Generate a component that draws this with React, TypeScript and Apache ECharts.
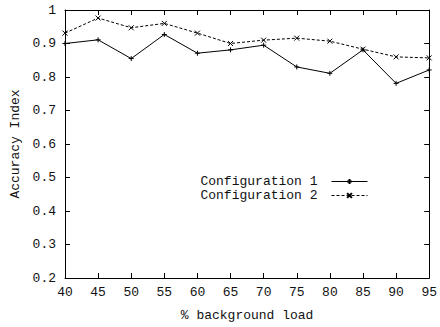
import React, { useEffect, useRef } from "react";
import * as echarts from "echarts";

const loads = [40, 45, 50, 55, 60, 65, 70, 75, 80, 85, 90, 95];
const config1 = [0.9, 0.911, 0.855, 0.927, 0.871, 0.881, 0.895, 0.83, 0.811, 0.881, 0.781, 0.821];
const config2 = [0.931, 0.976, 0.947, 0.96, 0.931, 0.9, 0.91, 0.916, 0.907, 0.883, 0.86, 0.857];
const seriesNames = ["Configuration 1", "Configuration 2"];

const FONT = "'Liberation Mono', 'DejaVu Sans Mono', monospace";
const PLUS = "path://M0,5L10,5M5,0L5,10";
const CROSS = "path://M0,0L10,10M10,0L0,10";

export default function App() {
  const ref = useRef<HTMLDivElement>(null);
  useEffect(() => {
    if (!ref.current) return;
    const chart = echarts.init(ref.current, null, { renderer: "svg" });
    const axisCommon = {
      axisLine: { show: true, lineStyle: { color: "#000", width: 1 } },
      axisTick: { show: true, inside: true, length: 5, lineStyle: { color: "#000" } },
      splitLine: { show: false },
    };
    chart.setOption({
      animation: false,
      backgroundColor: "#fff",
      textStyle: { fontFamily: FONT },
      grid: { left: 65, right: 9, top: 10, bottom: 47 },
      legend: {
        orient: "vertical",
        align: "right",
        right: 67,
        top: 170,
        itemWidth: 36,
        itemHeight: 6,
        itemGap: 1,
        lineStyle: { width: 1 },
        formatter: "{a|{name}}",
        textStyle: {
          fontFamily: FONT,
          fontSize: 13,
          color: "#111",
          rich: { a: { fontFamily: FONT, fontSize: 13, color: "#111", padding: [0, 9, 0, 0] } },
        },
        data: seriesNames,
      },
      xAxis: [
        {
          type: "value",
          min: 40,
          max: 95,
          interval: 5,
          name: "% background load",
          nameLocation: "middle",
          nameGap: 31,
          nameTextStyle: { fontFamily: FONT, fontSize: 13, color: "#111" },
          axisLabel: { fontFamily: FONT, fontSize: 13, color: "#111", margin: 8 },
          ...axisCommon,
        },
        {
          type: "value",
          position: "top",
          min: 40,
          max: 95,
          interval: 5,
          axisLabel: { show: false },
          ...axisCommon,
        },
      ],
      yAxis: [
        {
          type: "value",
          min: 0.2,
          max: 1,
          interval: 0.1,
          name: "Accuracy Index",
          nameLocation: "middle",
          nameGap: 40,
          nameTextStyle: { fontFamily: FONT, fontSize: 13, color: "#111" },
          axisLabel: {
            fontFamily: FONT,
            fontSize: 13,
            color: "#111",
            margin: 9,
            formatter: (v: number) => String(Math.round(v * 10) / 10),
          },
          ...axisCommon,
        },
        {
          type: "value",
          position: "right",
          min: 0.2,
          max: 1,
          interval: 0.1,
          axisLabel: { show: false },
          ...axisCommon,
        },
      ],
      series: [
        {
          name: seriesNames[0],
          type: "line",
          data: loads.map((x, i) => [x, config1[i]]),
          symbol: PLUS,
          symbolSize: 5,
          showAllSymbol: true,
          lineStyle: { color: "#000", width: 1, type: "solid" },
          itemStyle: { color: "#000", borderColor: "#000", borderWidth: 1 },
        },
        {
          name: seriesNames[1],
          type: "line",
          data: loads.map((x, i) => [x, config2[i]]),
          symbol: CROSS,
          symbolSize: 5,
          showAllSymbol: true,
          lineStyle: { color: "#000", width: 1, type: [3, 2] },
          itemStyle: { color: "#000", borderColor: "#000", borderWidth: 1 },
        },
      ],
    });
    return () => chart.dispose();
  }, []);
  return <div ref={ref} style={{ width: 440, height: 327, position: "absolute", left: 0, top: 0 }} />;
}
